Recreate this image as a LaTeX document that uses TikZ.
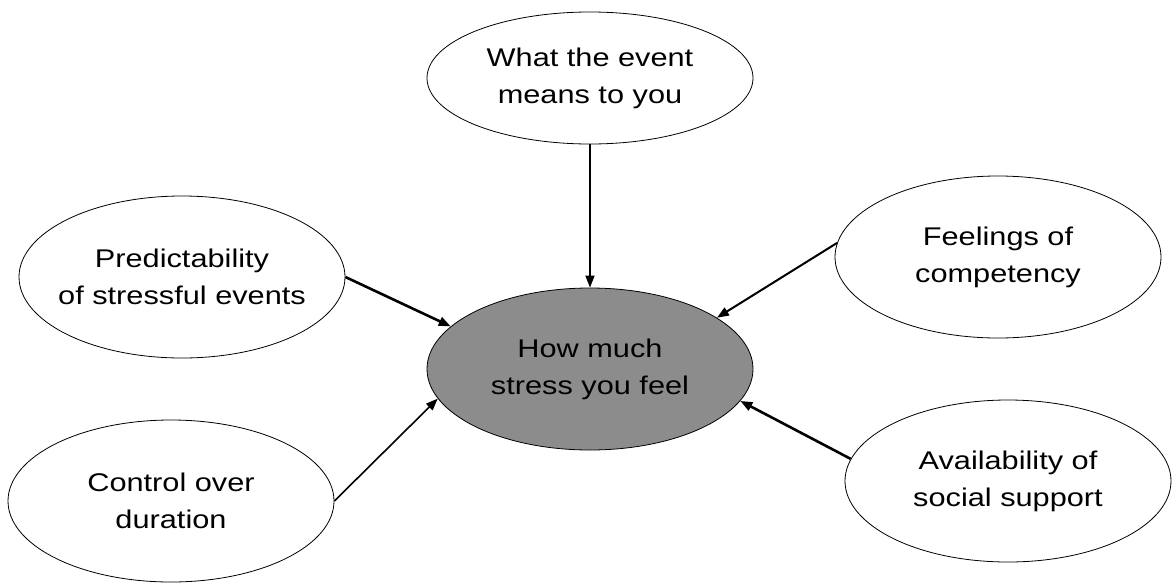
\documentclass[tikz,border=0pt]{standalone}
\usepackage{fontspec}
\setmainfont[FakeStretch=1.2]{Liberation Sans}
\usetikzlibrary{shapes.geometric,arrows.meta}
\definecolor{centerfill}{RGB}{140,140,140}
\tikzset{
  bubble/.style={draw=black, line width=0.8pt, ellipse, inner sep=0pt,
    minimum width=326pt, minimum height=162pt, fill=white},
  topbubble/.style={bubble, minimum height=132pt},
  mainbubble/.style={bubble, fill=centerfill},
  lbl/.style={align=center, font=\fontsize{25.6pt}{37pt}\selectfont, inner sep=0pt},
  link/.style={line width=1.6pt, -{Triangle[length=12pt,width=9pt]}},
  thicklink/.style={link, line width=2.6pt}
}
\begin{document}
\begin{tikzpicture}[x=1pt, y=-1pt]
\useasboundingbox (0,0) rectangle (1173,582);
% bubbles
\node[topbubble] (what) at (590,78) {};
\node[bubble] (pred) at (182,277) {};
\node[mainbubble] (stress) at (590,369) {};
\node[bubble] (feel) at (998,257) {};
\node[bubble] (ctrl) at (171,501) {};
\node[bubble] (avail) at (1008,481) {};
% texts
\node[lbl] (whatT) at (what) {What the event\\means to you};
\node[lbl] (predT) at (pred) {Predictability\\of stressful events};
\node[lbl] (stressT) at (stress) {How much\\stress you feel};
\node[lbl] (feelT) at (feel) {Feelings of\\competency};
\node[lbl] (ctrlT) at (ctrl) {Control over\\duration};
\node[lbl] (availT) at (avail) {Availability of\\social support};
% connectors
\draw[link] (what.south) -- (stress.north);
\draw[thicklink] (pred.east) -- (stress.163.9);
\draw[link] (ctrl.east) -- (stress.191.7);
\draw[link, line width=2pt] (feel.175.7) -- (stress.22.9);
\draw[thicklink] (avail.172.6) -- (stress.348.7);
\end{tikzpicture}
\end{document}
